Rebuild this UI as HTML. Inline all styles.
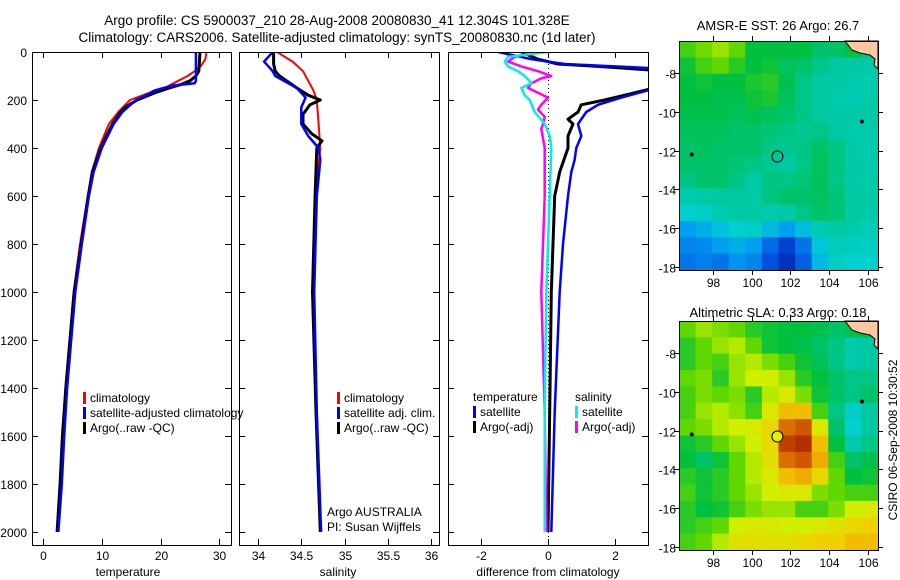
<!DOCTYPE html>
<html><head><meta charset="utf-8">
<style>
html,body{margin:0;padding:0;background:#fff;}
svg{display:block;font-family:"Liberation Sans",sans-serif;}
text{fill:#000;}
</style></head>
<body>
<svg id="fig" width="900" height="580" viewBox="0 0 900 580" xmlns="http://www.w3.org/2000/svg">
<text x="337" y="25" font-size="13.5" text-anchor="middle">Argo profile: CS 5900037_210 28-Aug-2008 20080830_41 12.304S 101.328E</text>
<text x="337" y="42" font-size="13.5" text-anchor="middle">Climatology: CARS2006. Satellite-adjusted climatology: synTS_20080830.nc (1d later)</text>
<text x="778" y="30" font-size="13" text-anchor="middle">AMSR-E SST: 26 Argo: 26.7</text>
<text x="778" y="317" font-size="13" text-anchor="middle">Altimetric SLA: 0.33 Argo: 0.18</text>
<text x="0" y="0" font-size="12" text-anchor="middle" transform="translate(897,440) rotate(-90)">CSIRO 06-Sep-2008 10:30:52</text>
<g id="layer"></g>
</svg>
<script>
// ---------- Profile data ----------
const tClimDepth = [0,30,60,80,100,120,150,175,200,250,300,400,500,600,800,1000,1200,1400,1600,1800,2000];
const tClimVal   = [27.8,27.6,26.8,25.8,24.6,23,20.7,17.5,14.8,12.8,11.2,9.5,8.3,7.6,6.3,5.2,4.5,3.8,3.3,2.9,2.4];
const tSatDepth  = [0,60,120,130,140,160,180,200,250,300,400,500,600,800,1000,1200,1400,1600,1800,2000];
const tSatVal    = [26.0,26.0,26.0,25.8,22,19,17.5,15.8,13.5,12.0,10.0,8.6,7.8,6.6,5.5,4.8,4.1,3.6,3.2,2.6];
const tArgoDepth = [0,40,80,100,120,135,150,170,200,230,250,300,400,500,600,800,1000,1200,1400,1600,1800,2000];
const tArgoVal   = [26.7,26.6,26.5,26.0,25.0,23.5,21.5,19,16,14,13.2,11.8,9.8,8.4,7.7,6.5,5.3,4.6,3.9,3.3,2.9,2.4];

const sClimDepth = [0,40,80,120,160,200,300,400,600,1000,1500,2000];
const sClimVal   = [34.22,34.4,34.52,34.58,34.64,34.68,34.7,34.72,34.66,34.64,34.68,34.72];
const sArgoDepth = [0,50,80,100,150,180,200,220,260,300,340,370,400,600,1000,1500,2000];
const sArgoVal   = [34.18,34.18,34.2,34.25,34.45,34.58,34.72,34.6,34.52,34.52,34.62,34.74,34.68,34.66,34.63,34.67,34.72];
const sSatDepth  = [0,40,80,100,150,190,230,300,350,400,450,600,1000,1500,2000];
const sSatVal    = [34.17,34.07,34.17,34.2,34.45,34.55,34.5,34.5,34.58,34.7,34.72,34.68,34.65,34.68,34.73];

const dTSatDepth  = [0,30,50,60,70,100,130,160,190,220,250,300,350,400,450,500,600,800,1000,1500,2000];
const dTSatVal    = [-1.5,-0.5,0.5,2,3.5,4.5,4.5,3.0,2.2,1.5,1.15,0.9,1.0,0.85,0.8,0.7,0.6,0.45,0.35,0.2,0.1];
const dTArgoDepth = [0,30,50,60,80,100,130,150,170,200,220,250,280,300,350,400,500,600,800,1000,1500,2000];
const dTArgoVal   = [-0.8,-0.3,0.3,1.5,3.6,3.8,3.6,3.2,2.6,1.7,1.0,0.9,0.6,0.75,0.6,0.6,0.35,0.2,0.15,0.1,0.05,0.0];
const dSSatDepth  = [0,20,40,60,80,100,130,150,180,200,250,300,350,400,600,1000,1500,2000];
const dSSatVal    = [0,-1.2,-1.3,-1.2,-0.9,-0.7,-0.5,-0.8,-0.7,-0.55,-0.4,-0.1,0.05,0.1,0.05,-0.05,-0.1,-0.1];
const dSArgoDepth = [0,20,40,60,80,100,110,130,150,170,190,220,240,270,300,320,400,600,1000,1500,2000];
const dSArgoVal   = [-0.3,-1.0,-1.2,-0.8,-0.3,0.1,-0.2,-0.5,-0.6,-0.3,0.0,-0.2,-0.3,-0.1,-0.15,-0.2,-0.1,-0.1,-0.2,-0.1,-0.05];

const depthTicks = [0,200,400,600,800,1000,1200,1400,1600,1800,2000];
const tempTicks = [0,10,20,30];
const salTicks = [34,34.5,35,35.5,36];
const salTickLabels = ["34","34.5","35","35.5","36"];
const diffTicks = [-2,0,2];

// ---------- Map data (rows north->south, cols west->east) ----------
const sstGrid = [
[0.60,0.63,0.66,0.62,0.55,0.55,0.55,0.55,0.52,0.52,0.55,0.50],
[0.56,0.60,0.62,0.58,0.55,0.56,0.53,0.52,0.50,0.48,0.47,0.47],
[0.55,0.56,0.55,0.55,0.57,0.58,0.54,0.50,0.48,0.47,0.46,0.46],
[0.55,0.55,0.54,0.54,0.56,0.57,0.53,0.50,0.48,0.46,0.45,0.46],
[0.54,0.54,0.54,0.53,0.54,0.53,0.52,0.50,0.48,0.47,0.47,0.47],
[0.53,0.53,0.53,0.52,0.52,0.51,0.50,0.49,0.50,0.48,0.46,0.46],
[0.52,0.53,0.52,0.52,0.52,0.50,0.49,0.50,0.52,0.50,0.47,0.46],
[0.52,0.52,0.52,0.51,0.50,0.49,0.48,0.50,0.53,0.50,0.47,0.46],
[0.50,0.52,0.52,0.50,0.47,0.50,0.50,0.51,0.53,0.50,0.47,0.46],
[0.46,0.47,0.48,0.48,0.47,0.50,0.52,0.52,0.53,0.51,0.48,0.47],
[0.40,0.42,0.45,0.47,0.47,0.46,0.47,0.50,0.52,0.51,0.48,0.46],
[0.30,0.33,0.37,0.40,0.42,0.35,0.30,0.36,0.45,0.47,0.46,0.44],
[0.25,0.26,0.30,0.33,0.30,0.20,0.12,0.22,0.38,0.44,0.43,0.42],
[0.22,0.24,0.22,0.28,0.25,0.15,0.08,0.18,0.35,0.42,0.40,0.40]];
const slaGrid = [
[0.62,0.66,0.64,0.62,0.58,0.56,0.55,0.55,0.54,0.52,0.54,0.55],
[0.58,0.62,0.66,0.68,0.62,0.56,0.55,0.54,0.52,0.50,0.46,0.48],
[0.58,0.62,0.60,0.66,0.68,0.64,0.60,0.56,0.53,0.50,0.46,0.48],
[0.62,0.64,0.58,0.66,0.70,0.70,0.66,0.58,0.55,0.52,0.50,0.50],
[0.60,0.64,0.62,0.64,0.58,0.68,0.72,0.64,0.56,0.52,0.50,0.52],
[0.60,0.66,0.68,0.65,0.60,0.72,0.80,0.80,0.60,0.50,0.42,0.48],
[0.62,0.64,0.68,0.70,0.72,0.76,0.88,0.90,0.72,0.52,0.40,0.48],
[0.56,0.58,0.62,0.66,0.70,0.76,0.92,0.95,0.80,0.55,0.46,0.50],
[0.55,0.52,0.56,0.62,0.68,0.74,0.88,0.90,0.82,0.60,0.52,0.54],
[0.58,0.56,0.58,0.62,0.68,0.72,0.80,0.82,0.76,0.62,0.55,0.56],
[0.60,0.56,0.58,0.62,0.66,0.70,0.72,0.72,0.64,0.62,0.60,0.60],
[0.58,0.55,0.56,0.60,0.64,0.66,0.66,0.60,0.60,0.64,0.70,0.72],
[0.58,0.60,0.62,0.70,0.72,0.72,0.70,0.70,0.72,0.74,0.76,0.78],
[0.60,0.62,0.68,0.74,0.74,0.74,0.74,0.76,0.78,0.78,0.80,0.80]];
const lonTicks = [98,100,102,104,106];
const latTicks = [-8,-10,-12,-14,-16,-18];
const argoLon = 101.328, argoLat = -12.304;

// ---------- helpers ----------
const NS="http://www.w3.org/2000/svg";
const layer=document.getElementById('layer');
function mk(tag,attrs,parent){const e=document.createElementNS(NS,tag);for(const k in attrs)e.setAttribute(k,attrs[k]);(parent||layer).appendChild(e);return e;}

const yTop=52, yBot=545;
const yD = d => 52 + d*0.24;
const xT = t => 43 + t*5.88;
const xS = s => 258 + (s-34)*86.5;
const xDf = v => 548 + v*33.3;

function panel(name,x0,x1,xf,ticks,labels,xlabel,lx){
  const g=mk('g',{});
  
  
  const clip=mk('clipPath',{id:'c-'+name},g);
  mk('rect',{x:x0,y:yTop,width:x1-x0,height:yBot-yTop},clip);
  const plot=mk('g',{'clip-path':'url(#c-'+name+')'},g);
  const frame=mk('rect',{x:x0+0.5,y:yTop+0.5,width:x1-x0,height:yBot-yTop,fill:'none',stroke:'#000','stroke-width':1},g);
  
  
  ticks.forEach((t,i)=>{const x=Math.round(xf(t))+0.5;
    mk('line',{x1:x,x2:x,y1:yBot,y2:yBot-6,stroke:'#000'},g);
    mk('line',{x1:x,x2:x,y1:yTop,y2:yTop+6,stroke:'#000'},g);
    const tx=mk('text',{x:x,y:yBot+15,'font-size':12,'text-anchor':'middle'},g);
    tx.textContent=labels[i];
    
    });
  depthTicks.forEach(d=>{const y=Math.round(yD(d))+0.5;
    mk('line',{x1:x0,x2:x0+6,y1:y,y2:y,stroke:'#000'},g);
    mk('line',{x1:x1-6,x2:x1,y1:y,y2:y,stroke:'#000'},g);});
  const xl=mk('text',{x:lx,y:576,'font-size':12,'text-anchor':'middle'},g);
  xl.textContent=xlabel;
  
  
  return plot;
}
function series(plot,name,depths,vals,xf,color,w){
  const pts=depths.map((d,i)=>xf(vals[i]).toFixed(1)+','+yD(d).toFixed(1)).join(' ');
  const p=mk('polyline',{points:pts,fill:'none',stroke:color,'stroke-width':w,'stroke-linejoin':'round'},plot);
  
  
}
function legend(items,x,y){
  items.forEach((it,i)=>{
    if(it.c){const m=mk('rect',{x:x,y:y+i*15-10,width:3,height:12,fill:it.c});
      
      }
    const t=mk('text',{x:x+(it.c?7:0),y:y+i*15,'font-size':12});
    t.textContent=it.t;
    
    
  });
}

depthTicks.forEach(d=>{const t=mk('text',{x:27,y:yD(d)+5,'font-size':12,'text-anchor':'end'});
  t.textContent=d;
  
  });

const p1=panel('temperature-panel',32,231,xT,tempTicks,tempTicks.map(String),'temperature',128);
series(p1,'temp-climatology-line',tClimDepth,tClimVal,xT,'#f00',2);
series(p1,'temp-argo-line',tArgoDepth,tArgoVal,xT,'#000',3);
series(p1,'temp-satellite-adjusted-line',tSatDepth,tSatVal,xT,'#00f',2.5);
legend([{c:'#f00',t:'climatology'},{c:'#00f',t:'satellite-adjusted climatology'},{c:'#000',t:'Argo(..raw -QC)'}],83,402);

const p2=panel('salinity-panel',239,439,xS,salTicks,salTickLabels,'salinity',338);
series(p2,'sal-climatology-line',sClimDepth,sClimVal,xS,'#f00',2);
series(p2,'sal-argo-line',sArgoDepth,sArgoVal,xS,'#000',3);
series(p2,'sal-satellite-adjusted-line',sSatDepth,sSatVal,xS,'#00f',2.5);
legend([{c:'#f00',t:'climatology'},{c:'#00f',t:'satellite adj. clim.'},{c:'#000',t:'Argo(..raw -QC)'}],337,402);
legend([{t:'Argo AUSTRALIA'},{t:'PI: Susan Wijffels'}],327,516);

const p3=panel('difference-panel',448,648,xDf,diffTicks,diffTicks.map(String),'difference from climatology',548);
const zl=mk('line',{x1:548.5,x2:548.5,y1:yTop,y2:yBot,stroke:'#000','stroke-dasharray':'1,3'},p3);


series(p3,'diff-temp-argo-line',dTArgoDepth,dTArgoVal,xDf,'#000',3);
series(p3,'diff-temp-satellite-line',dTSatDepth,dTSatVal,xDf,'#00f',2.5);
series(p3,'diff-sal-argo-line',dSArgoDepth,dSArgoVal,xDf,'#f0f',2.5);
series(p3,'diff-sal-satellite-line',dSSatDepth,dSSatVal,xDf,'#0ee',2.5);
legend([{t:'temperature'},{c:'#00f',t:'satellite'},{c:'#000',t:'Argo(-adj)'}],473,401);
legend([{t:'salinity'},{c:'#0ee',t:'satellite'},{c:'#f0f',t:'Argo(-adj)'}],575,401);

const cmStops=[[0,[0,16,144]],[0.15,[0,80,224]],[0.3,[0,160,240]],[0.4,[0,208,208]],[0.48,[0,200,160]],[0.55,[0,192,64]],[0.62,[96,216,0]],[0.7,[208,240,0]],[0.78,[240,208,0]],[0.85,[240,144,0]],[0.92,[192,64,0]],[1,[160,16,0]]];
function cmap(v){for(let i=1;i<cmStops.length;i++){if(v<=cmStops[i][0]){const a=cmStops[i-1],b=cmStops[i];const f=(v-a[0])/(b[0]-a[0]);const c=a[1].map((x,k)=>Math.round(x+(b[1][k]-x)*f));return 'rgb('+c.join(',')+')';}}return 'rgb(160,16,0)';}
const lonMin=96.24, lonMax=106.53, latMax=-6.35, latMin=-18.15;
function drawMap(name,grid,top,circleFill){
  const x0=679,x1=878,y0=top,y1=top+229;
  const xL=lon=>x0+(lon-lonMin)/(lonMax-lonMin)*(x1-x0);
  const yL=lat=>y0+(latMax-lat)/(latMax-latMin)*(y1-y0);
  const g=mk('g',{});
  
  
  const rows=grid.length, cols=grid[0].length;
  const dLon=(lonMax-lonMin)/cols, dLat=(latMax-latMin)/rows;
  grid.forEach((row,r)=>row.forEach((v,c)=>{
    const xa=xL(lonMin+c*dLon), xb=xL(lonMin+(c+1)*dLon);
    const ya=yL(latMax-r*dLat), yb=yL(latMax-(r+1)*dLat);
    const cell=mk('rect',{x:xa.toFixed(1),y:ya.toFixed(1),width:(xb-xa+0.6).toFixed(1),height:(yb-ya+0.6).toFixed(1),fill:cmap(v)},g);
    
    
  }));
  const land=mk('path',{d:`M${x1-33},${y0} L${x1},${y0} L${x1},${y0+28} L${x1-4},${y0+24} L${x1-3},${y0+18} L${x1-8},${y0+14} L${x1-18},${y0+12} L${x1-26},${y0+9} Z`,fill:'#ffc8a0',stroke:'#000','stroke-width':1},g);
  
  
  [[105.7,-10.5],[96.9,-12.2]].forEach(p=>{const is=mk('circle',{cx:xL(p[0]),cy:yL(p[1]),r:2,fill:'#000'},g);
    
    });
  const ci=mk('circle',{cx:xL(argoLon),cy:yL(argoLat),r:5.5,fill:circleFill,stroke:'#000','stroke-width':1},g);
  
  
  mk('rect',{x:x0+0.5,y:y0+0.5,width:x1-x0,height:y1-y0,fill:'none',stroke:'#000'},g);
  lonTicks.forEach(l=>{const x=Math.round(xL(l))+0.5;
    mk('line',{x1:x,x2:x,y1:y1,y2:y1+5,stroke:'#000'},g);
    mk('line',{x1:x,x2:x,y1:y0-5,y2:y0,stroke:'#000'},g);
    const t=mk('text',{x:x,y:y1+17,'font-size':12,'text-anchor':'middle'},g);
    t.textContent=l;
    
    });
  latTicks.forEach(l=>{const y=Math.round(yL(l))+0.5;
    mk('line',{x1:x0-5,x2:x0,y1:y,y2:y,stroke:'#000'},g);
    mk('line',{x1:x1,x2:x1+5,y1:y,y2:y,stroke:'#000'},g);
    const t=mk('text',{x:x0-3,y:y+5,'font-size':12,'text-anchor':'end'},g);
    t.textContent=l;
    
    });
}
drawMap('sst-map',sstGrid,41,'none');
drawMap('sla-map',slaGrid,321,'#e8f000');
</script>
</body></html>
